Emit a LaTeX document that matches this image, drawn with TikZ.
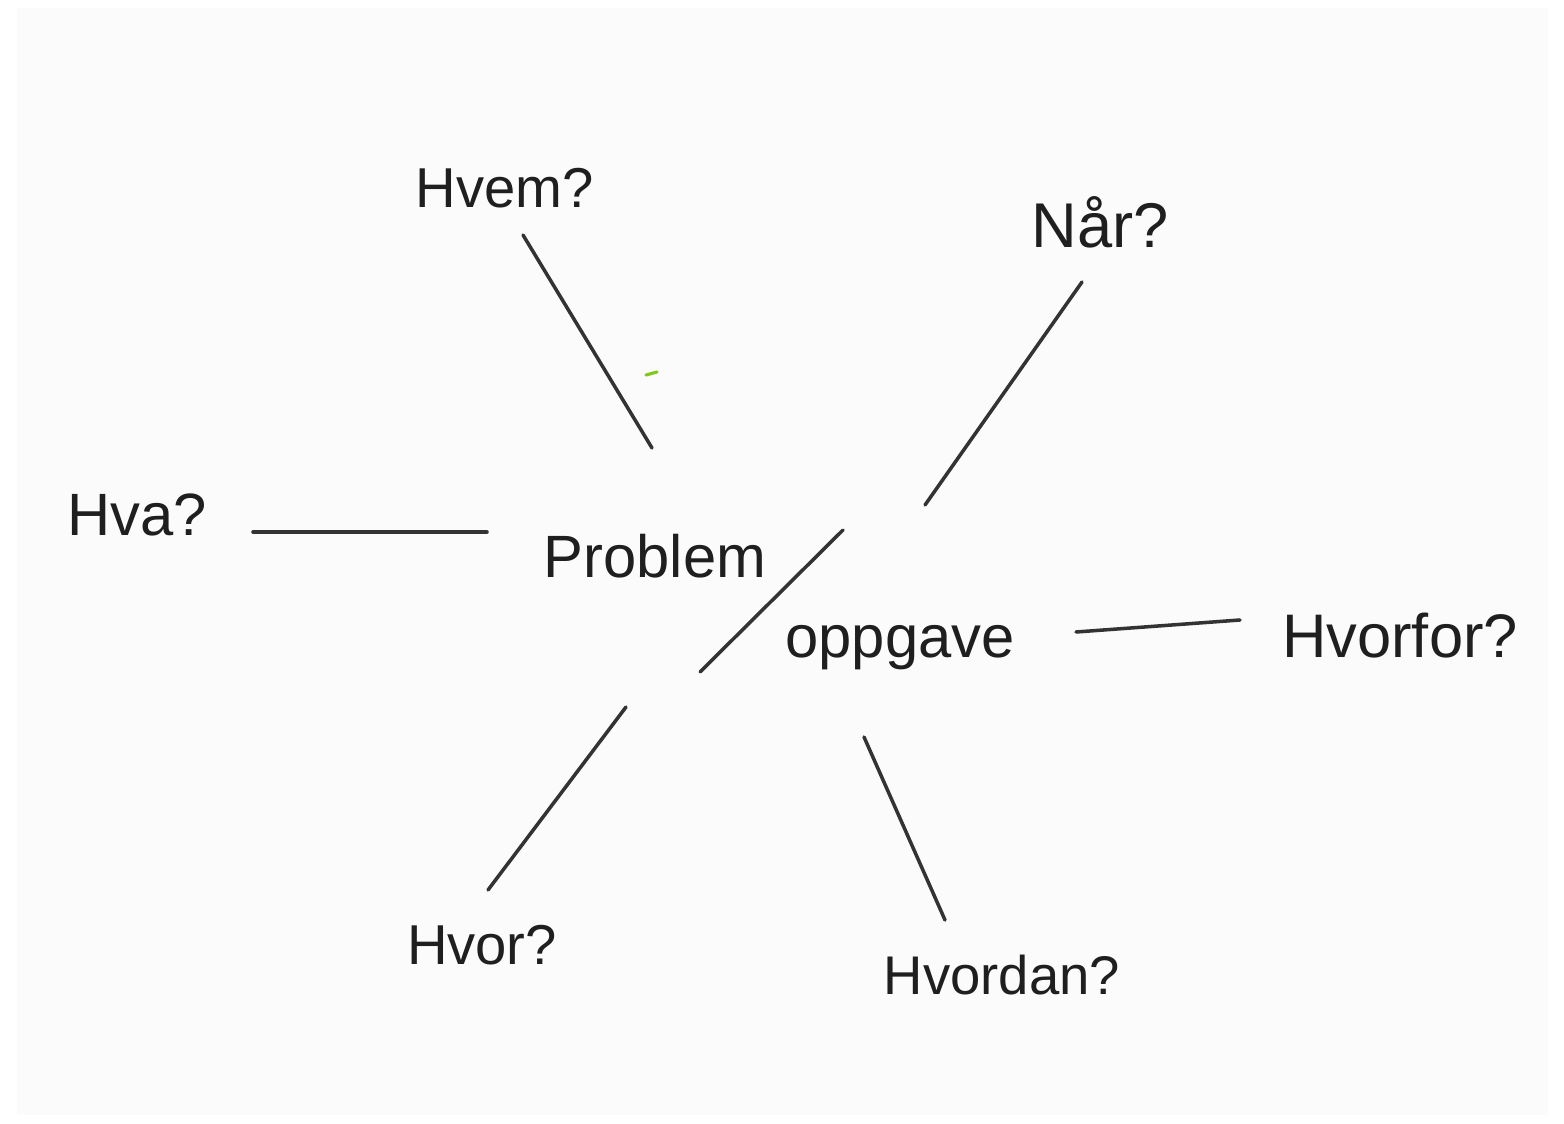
\documentclass[tikz,border=0pt]{standalone}
\usepackage{fontspec}
\setmainfont{Liberation Sans}
\begin{document}
\begin{tikzpicture}[x=0.02cm,y=-0.02cm,
  lbl/.style={inner sep=0pt, text=black!88, font=\fontsize{32}{36}\selectfont},
  big/.style={inner sep=0pt, text=black!88, font=\fontsize{34}{38}\selectfont},
  stroke/.style={draw=black!80, line width=2pt, line cap=round}]
\useasboundingbox (0,0) rectangle (1564,1124);
\fill[white] (0,0) rectangle (1564,1124);
\fill[black!1.5] (17,8) rectangle (1548,1115);
% labels
\node[lbl] (hvem) at (505,188) {Hvem?};
\node[lbl, font=\fontsize{36}{40}\selectfont] (naar) at (1100,222) {Når?};
\node[lbl, font=\fontsize{34}{38}\selectfont] (hva) at (137,515) {Hva?};
\node[big] (problem) at (655,556) {Problem};
\node[big] (oppgave) at (900,648) {oppgave};
\node[lbl, font=\fontsize{35}{38}\selectfont] (hvorfor) at (1400,636) {Hvorfor?};
\node[lbl] (hvor) at (482,945) {Hvor?};
\node[lbl, font=\fontsize{31}{36}\selectfont] (hvordan) at (1002,975) {Hvordan?};
% connector end points
\coordinate (hvemA) at (523,235);  \coordinate (hvemB) at (652,448);
\coordinate (naarA) at (1082,282); \coordinate (naarB) at (925,505);
\coordinate (hvaA) at (253,532);   \coordinate (hvaB) at (487,532);
\coordinate (hvfA) at (1076,632);  \coordinate (hvfB) at (1240,620);
\coordinate (hvorA) at (626,707);  \coordinate (hvorB) at (488,890);
\coordinate (hvdA) at (864,737);   \coordinate (hvdB) at (945,920);
\coordinate (slA) at (700,672);    \coordinate (slB) at (843,530);
\draw[stroke] (hvemA) -- (hvemB);
\draw[stroke] (naarA) -- (naarB);
\draw[stroke] (hvaA) -- (hvaB);
\draw[stroke] (hvfA) -- (hvfB);
\draw[stroke] (hvorA) -- (hvorB);
\draw[stroke] (hvdA) -- (hvdB);
\draw[stroke] (slA) -- (slB);
% small green mark
\coordinate (gA) at (646,375); \coordinate (gB) at (657,372);
\draw[draw={rgb,255:red,130;green,200;blue,30}, line width=1.8pt, line cap=round] (gA) -- (gB);
\end{tikzpicture}
\end{document}
